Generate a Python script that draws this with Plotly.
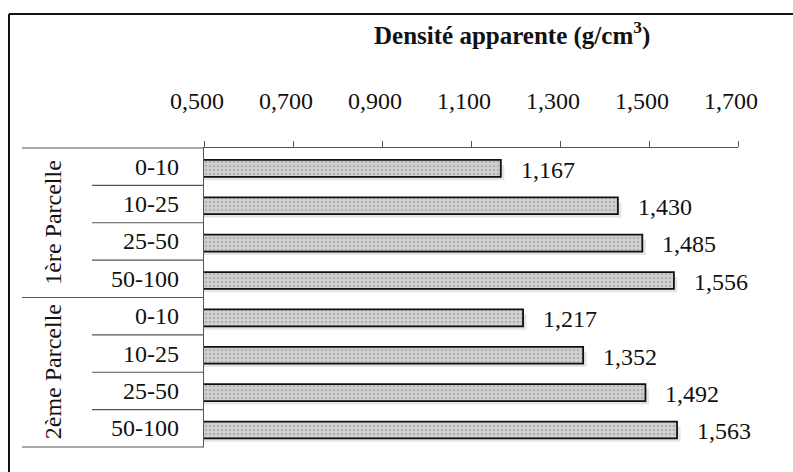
import plotly.graph_objects as go

groups = ["1ère Parcelle", "2ème Parcelle"]
depths = ["0-10", "10-25", "25-50", "50-100"]
values_p1 = [1.167, 1.430, 1.485, 1.556]
values_p2 = [1.217, 1.352, 1.492, 1.563]
tick_vals = [0.5, 0.7, 0.9, 1.1, 1.3, 1.5, 1.7]
title_text = "Densité apparente (g/cm<sup>3</sup>)"

W, H = 793, 472
L, R, T, B = 204, 738, 148, 447
FONT = "Liberation Serif"
FS = 24

def px(x):
    return (x - L) / (R - L)

def py(y):
    return (B - y) / (B - T)

cats = []
vals = []
labels = []
for g, vs in zip(groups, [values_p1, values_p2]):
    for d, v in zip(depths, vs):
        cats.append(f"{g}|{d}")
        vals.append(v)
        labels.append(d)

fmt = lambda v: f"{v:.3f}".replace(".", ",")

fig = go.Figure()
fig.add_trace(go.Bar(
    y=cats, x=vals, orientation="h", width=0.45, offset=-0.18,
    marker=dict(color="#c9c9c9",
                line=dict(color="#111", width=1.8),
                pattern=dict(shape=".", fgcolor="#8f8f8f", bgcolor="#d2d2d2",
                             size=4, solidity=0.35)),
    showlegend=False, hoverinfo="skip",
))

annotations = []
for c, v in zip(cats, vals):
    annotations.append(dict(x=v, y=c, xref="x", yref="y", text=fmt(v),
                            xanchor="left", yanchor="middle", showarrow=False,
                            xshift=18, yshift=-3,
                            font=dict(family=FONT, size=FS, color="#111")))
n = len(cats)
row_h = 1.0 / n
for i, lab in enumerate(labels):
    yc = 1 - (i + 0.5) * row_h
    annotations.append(dict(x=px(181), y=yc, xref="paper", yref="paper", text=lab,
                            xanchor="right", yanchor="middle", showarrow=False,
                            font=dict(family=FONT, size=FS, color="#111")))
for gi, g in enumerate(groups):
    yc = 1 - (gi * 4 + 2) * row_h
    annotations.append(dict(x=px(53), y=yc, xref="paper", yref="paper", text=g,
                            textangle=-90, xanchor="center", yanchor="middle",
                            showarrow=False,
                            font=dict(family=FONT, size=FS, color="#111")))
annotations.append(dict(x=px(512), y=py(33), xref="paper", yref="paper",
                        text="<b>" + title_text + "</b>", xanchor="center",
                        yanchor="middle", showarrow=False,
                        font=dict(family=FONT, size=25, color="#111")))

shapes = []
line_col = "#555"
# soft shadows under bars
for i, v in enumerate(vals):
    shapes.append(dict(type="rect", xref="x", yref="y", layer="below",
                       x0=0.5, x1=v + 0.008, y0=i - 0.05, y1=i + 0.36,
                       fillcolor="rgba(0,0,0,0.10)", line=dict(width=0)))
for i in range(n + 1):
    y = 1 - i * row_h
    x0 = px(22) if i % 4 == 0 else px(92)
    shapes.append(dict(type="line", xref="paper", yref="paper", x0=x0, x1=0,
                       y0=y, y1=y, line=dict(color=line_col, width=1.2)))
# outer frame
shapes.append(dict(type="line", xref="paper", yref="paper", x0=px(9), x1=px(9),
                   y0=py(14), y1=py(480), line=dict(color="#111", width=2)))
shapes.append(dict(type="line", xref="paper", yref="paper", x0=px(9), x1=px(800),
                   y0=py(14), y1=py(14), line=dict(color="#111", width=2)))

fig.update_layout(
    width=W, height=H,
    margin=dict(l=L, r=W - R, t=T, b=H - B),
    paper_bgcolor="white", plot_bgcolor="white",
    xaxis=dict(side="top", range=[0.5, 1.7], tickvals=tick_vals,
               ticktext=[fmt(v) for v in tick_vals],
               showgrid=False, zeroline=False, showline=True,
               linecolor=line_col, linewidth=1.2,
               ticks="outside", ticklen=6, tickcolor=line_col,
               ticklabelstandoff=22, ticklabelshift=-7,
               tickfont=dict(family=FONT, size=FS, color="#111")),
    yaxis=dict(categoryorder="array", categoryarray=cats, autorange="reversed",
               showticklabels=False, showgrid=False, zeroline=False,
               showline=True, linecolor=line_col, linewidth=1.2, ticks=""),
    annotations=annotations, shapes=shapes,
)

fig.write_html("out.html", config={"displayModeBar": False},
               post_script="document.body.style.margin='0';document.body.style.overflow='hidden';")
